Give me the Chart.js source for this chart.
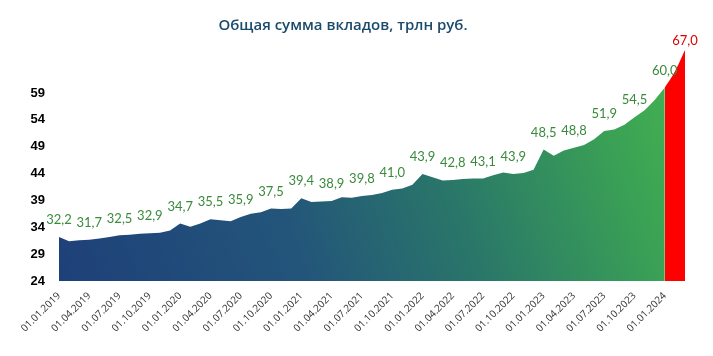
<!DOCTYPE html>
<html><head><meta charset="utf-8">
<script src="https://cdn.jsdelivr.net/npm/chart.js@4.4.1/dist/chart.umd.min.js"></script>
<style>
html,body{margin:0;padding:0;background:#fff;width:713px;height:356px;overflow:hidden}
#wrap{position:relative;width:713px;height:356px}
#title{position:absolute;left:0;width:686px;top:14px;line-height:20px;text-align:center;white-space:nowrap;font:600 15px 'Open Sans';color:#1a4a6c}
canvas{position:absolute;left:0;top:0}
</style></head><body>
<div id="wrap"><canvas id="c" width="713" height="356"></canvas><div id="title">Общая сумма вкладов, трлн руб.</div></div>
<script>
const titleText = 'Общая сумма вкладов, трлн руб.';
const dates = [
 '01.01.2019','01.02.2019','01.03.2019','01.04.2019','01.05.2019','01.06.2019','01.07.2019','01.08.2019','01.09.2019','01.10.2019','01.11.2019','01.12.2019',
 '01.01.2020','01.02.2020','01.03.2020','01.04.2020','01.05.2020','01.06.2020','01.07.2020','01.08.2020','01.09.2020','01.10.2020','01.11.2020','01.12.2020',
 '01.01.2021','01.02.2021','01.03.2021','01.04.2021','01.05.2021','01.06.2021','01.07.2021','01.08.2021','01.09.2021','01.10.2021','01.11.2021','01.12.2021',
 '01.01.2022','01.02.2022','01.03.2022','01.04.2022','01.05.2022','01.06.2022','01.07.2022','01.08.2022','01.09.2022','01.10.2022','01.11.2022','01.12.2022',
 '01.01.2023','01.02.2023','01.03.2023','01.04.2023','01.05.2023','01.06.2023','01.07.2023','01.08.2023','01.09.2023','01.10.2023','01.11.2023','01.12.2023',
 '01.01.2024','01.02.2024','01.03.2024'
];
const deposits = [
 32.2,31.4,31.6,31.7,31.9,32.2,32.5,32.6,32.8,32.9,33.0,33.4,
 34.7,34.1,34.7,35.5,35.3,35.1,35.9,36.5,36.8,37.5,37.4,37.5,
 39.4,38.7,38.8,38.9,39.6,39.5,39.8,40.0,40.4,41.0,41.2,41.9,
 43.9,43.3,42.7,42.8,43.0,43.1,43.1,43.7,44.2,43.9,44.1,44.7,
 48.5,47.3,48.3,48.8,49.3,50.4,51.9,52.2,53.1,54.5,55.8,57.7,
 60.0,63.0,67.0
];
const forecastStart = 60;
const labelIndices = [0,3,6,9,12,15,18,21,24,27,30,33,36,39,42,45,48,51,54,57,60,62];
const yTicks = [24,29,34,39,44,49,54,59];

const histData = deposits.map((v,i)=> i<=forecastStart ? v : null);
const foreData = deposits.map((v,i)=> i>=forecastStart ? v : null);
const fmt = v => v.toFixed(1).replace('.',',');

const labelPlugin = {
  id:'valLabels',
  afterDatasetsDraw(chart){
    const ctx = chart.ctx;
    const m0 = chart.getDatasetMeta(0), m1 = chart.getDatasetMeta(1);
    ctx.save();
    ctx.font = '13px Lato';
    ctx.textAlign = 'center';
    ctx.textBaseline = 'middle';
    labelIndices.forEach(i=>{
      const el = (i<=forecastStart ? m0 : m1).data[i];
      const last = i === deposits.length-1;
      ctx.fillStyle = last ? '#e00000' : '#3a8a3c';
      ctx.fillText(fmt(deposits[i]), el.x, el.y - (last ? 9 : 17));
    });
    ctx.restore();
  }
};

function grad(c){
  const chart = c.chart, a = chart.chartArea;
  if(!a) return '#2a6a70';
  const g = chart.ctx.createLinearGradient(a.left, a.bottom, a.right, a.top);
  g.addColorStop(0,'#1e4079');
  g.addColorStop(0.35,'#23557a');
  g.addColorStop(0.6,'#2a7769');
  g.addColorStop(0.85,'#3aa155');
  g.addColorStop(1,'#45b550');
  return g;
}

new Chart(document.getElementById('c'),{
  type:'line',
  data:{labels:dates,datasets:[
    {data:histData,fill:'start',backgroundColor:grad,borderWidth:0,pointRadius:0,tension:0,spanGaps:false},
    {data:foreData,fill:'start',backgroundColor:'#ff0000',borderWidth:0,pointRadius:0,tension:0.4,spanGaps:false}
  ]},
  options:{
    responsive:false,animation:false,
    layout:{padding:{left:0,right:28,top:50,bottom:0}},
    plugins:{legend:{display:false},tooltip:{enabled:false},title:{display:false}},
    scales:{
      x:{offset:false,grid:{display:false,drawTicks:false},border:{display:false},
         ticks:{autoSkip:false,maxRotation:45,minRotation:45,padding:9,color:'#333',
                font:{family:'Open Sans',size:10},
                callback:(v,i)=> i%3===0 ? dates[i] : ''},
         afterFit:s=>{s.height=75;}},
      y:{min:24,max:67,grid:{display:false,drawTicks:false},border:{display:false},
         afterBuildTicks:s=>{s.ticks=yTicks.map(v=>({value:v}));},
         ticks:{padding:14,color:'#000',font:{family:'Liberation Sans',size:13,weight:'bold'}},
         afterFit:s=>{s.width=59;}}
    }
  },
  plugins:[labelPlugin]
});
</script>
</body></html>
